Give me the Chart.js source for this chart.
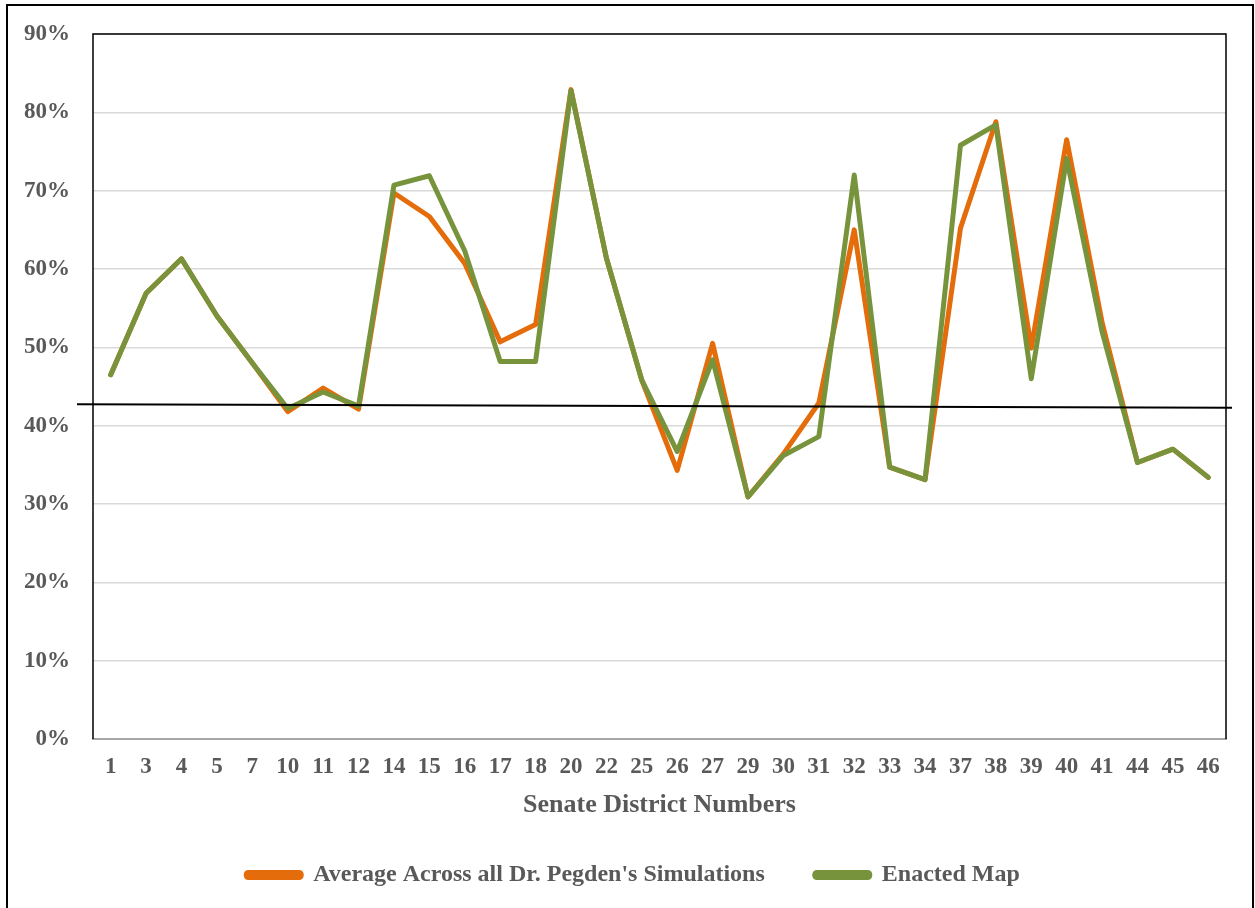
<!DOCTYPE html>
<html>
<head>
<meta charset="utf-8">
<script src="https://cdn.jsdelivr.net/npm/chart.js@4/dist/chart.umd.min.js"></script>
<style>
  html, body { margin: 0; padding: 0; background: #fff; overflow: hidden; }
  #frame { position: absolute; left: 6px; top: 4px; width: 1248px; height: 920px; border: 2px solid #000; box-sizing: border-box; }
  #wrap { position: absolute; left: 0; top: 0; width: 1255px; height: 908px; }
</style>
</head>
<body>
<div id="frame"></div>
<div id="wrap"><canvas id="chart" width="1255" height="908"></canvas></div>
<script>
const districts = ['1','3','4','5','7','10','11','12','14','15','16','17','18','20','22','25',
                   '26','27','29','30','31','32','33','34','37','38','39','40','41','44','45','46'];

const simulationAvg = [46.5, 56.9, 61.3, 54.0, 48.0, 41.8, 44.8, 42.1, 69.7, 66.7, 60.7, 50.7, 52.9, 82.9, 61.4, 45.8,
                       34.3, 50.5, 30.9, 36.4, 42.9, 65.0, 34.7, 33.1, 65.2, 78.8, 49.9, 76.5, 53.2, 35.3, 37.0, 33.4];

const enactedMap    = [46.5, 56.9, 61.3, 54.0, 48.0, 42.2, 44.3, 42.5, 70.7, 71.9, 62.3, 48.2, 48.2, 82.8, 61.4, 45.8,
                       36.7, 48.4, 30.9, 36.2, 38.6, 72.0, 34.7, 33.1, 75.8, 78.4, 46.0, 74.1, 52.0, 35.3, 37.0, 33.4];

// the hand-drawn black reference line (value at left end, value at right end)
const refLineStart = 42.75;
const refLineEnd = 42.3;

const textGrey = '#595959';
const serif = "'Liberation Serif', 'Times New Roman', serif";

const frameAndRefLine = {
  id: 'frameAndRefLine',
  afterLayout(chart) {
    // nudge legend row a little to the right, like the original
    chart.legend.left += 40;
  },
  afterDatasetsDraw(chart) {
    const { ctx, chartArea: a, scales } = chart;
    ctx.save();
    // plot border (top, left, right)
    ctx.strokeStyle = '#000';
    ctx.lineWidth = 1.5;
    ctx.beginPath();
    ctx.moveTo(a.left, a.bottom);
    ctx.lineTo(a.left, a.top);
    ctx.lineTo(a.right, a.top);
    ctx.lineTo(a.right, a.bottom);
    ctx.stroke();
    // reference line
    ctx.lineWidth = 2;
    ctx.beginPath();
    ctx.moveTo(a.left - 16, scales.y.getPixelForValue(refLineStart));
    ctx.lineTo(a.right + 6, scales.y.getPixelForValue(refLineEnd));
    ctx.stroke();
    ctx.restore();
  }
};

new Chart(document.getElementById('chart'), {
  type: 'line',
  data: {
    labels: districts,
    datasets: [
      {
        label: "Average Across all Dr. Pegden's Simulations",
        data: simulationAvg,
        borderColor: '#e46c0a',
        backgroundColor: '#e46c0a',
        borderWidth: 5,
        order: 2
      },
      {
        label: 'Enacted Map',
        data: enactedMap,
        borderColor: '#77933c',
        backgroundColor: '#77933c',
        borderWidth: 5,
        order: 1
      }
    ]
  },
  options: {
    responsive: false,
    animation: false,
    devicePixelRatio: 1,
    layout: { padding: { left: 0, top: 34, right: 29, bottom: 11 } },
    elements: {
      line: { tension: 0, borderCapStyle: 'round', borderJoinStyle: 'round' },
      point: { radius: 0, hoverRadius: 0 }
    },
    plugins: {
      tooltip: { enabled: false },
      legend: {
        position: 'bottom',
        labels: {
          sort: (a, b) => a.datasetIndex - b.datasetIndex,
          color: textGrey,
          font: { family: serif, size: 24, weight: 'bold' },
          boxWidth: 55,
          boxHeight: 5,
          padding: 50,
          useBorderRadius: true,
          borderRadius: 2
        }
      }
    },
    scales: {
      x: {
        offset: true,
        afterFit(scale) { scale.height = 74; },
        grid: { display: false, drawTicks: false },
        border: { color: '#a6a6a6', width: 2 },
        ticks: {
          color: textGrey,
          font: { family: serif, size: 23, weight: 'bold' },
          padding: 14,
          maxRotation: 0,
          autoSkip: false
        },
        title: {
          display: true,
          text: 'Senate District Numbers',
          color: textGrey,
          font: { family: serif, size: 26, weight: 'bold' },
          padding: { top: 0, bottom: -8 }
        }
      },
      y: {
        min: 0,
        max: 90,
        afterFit(scale) {
          scale.width = 93;
          scale.paddingTop = 0;
        },
        grid: { color: '#d9d9d9', lineWidth: 1.5, drawTicks: false },
        border: { display: false },
        ticks: {
          stepSize: 10,
          color: textGrey,
          font: { family: serif, size: 23, weight: 'bold' },
          padding: 23,
          callback: v => v + '%'
        }
      }
    }
  },
  plugins: [frameAndRefLine]
});
</script>
</body>
</html>
